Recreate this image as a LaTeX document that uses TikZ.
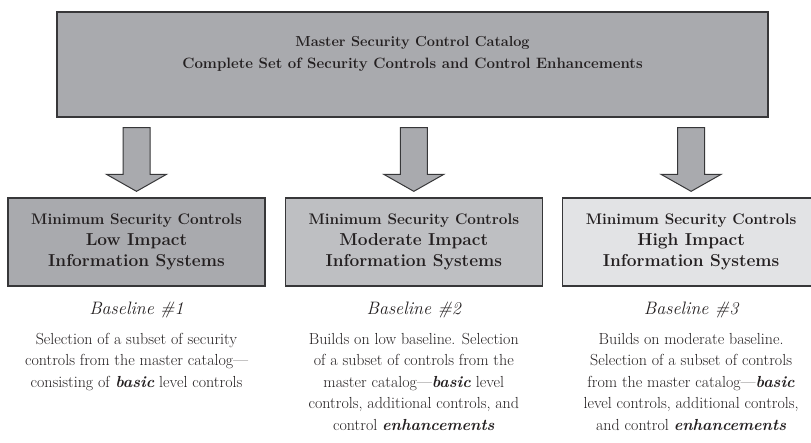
\documentclass[tikz,border=0pt]{standalone}
\usepackage{xcolor}
\usepackage{tikz}
\usetikzlibrary{positioning,calc}

\definecolor{boxgray}{RGB}{169,170,174}
\definecolor{midgray}{RGB}{190,191,194}
\definecolor{palegray}{RGB}{226,227,229}
\definecolor{edgegray}{RGB}{55,55,57}
\definecolor{inkgray}{RGB}{35,31,32}

\tikzset{
  catbox/.style={draw=edgegray, line width=1.3pt, fill=boxgray, minimum width=711pt, minimum height=105pt},
  catlabel/.style={align=center, text=inkgray, font=\bfseries\fontsize{15}{22}\selectfont},
  levelbox/.style={draw=edgegray, line width=1.3pt, minimum width=257pt, minimum height=88pt, inner sep=0pt,
    align=center, text=inkgray, font=\bfseries\fontsize{17.3}{21}\selectfont},
  fatarrow/.style={draw=edgegray, line width=1pt, fill=boxgray, line join=miter},
  basename/.style={text=inkgray, font=\itshape\fontsize{18}{20}\selectfont},
  basetext/.style={align=center, text=inkgray, font=\fontsize{16}{21.5}\selectfont}
}

% block arrow from the catalog down to a baseline box
\newcommand{\fatdown}[2]{%
  \draw[fatarrow] ($(#2.north |- #1.south)+(-13.5,10)$) -- ++(27,0)
    -- ($(#2.north)+(13.5,-23)$) -- ($(#2.north)+(30,-23)$) -- ($(#2.north)+(0,-6)$)
    -- ($(#2.north)+(-30,-23)$) -- ($(#2.north)+(-13.5,-23)$) -- cycle;}

\begin{document}
\begin{tikzpicture}[x=1pt, y=-1pt]
  \useasboundingbox (0,0) rectangle (811,443);

  % Master catalog
  \node[catbox] (catalog) at (412.5,64.5) {};
  \node[catlabel] (catalogtext) at (412.5,54) {{\fontsize{14.5}{22}\selectfont Master Security Control Catalog}\\
    Complete Set of Security Controls and Control Enhancements};

  % Baseline boxes
  \node[levelbox, fill=boxgray] (low) at (136.5,242) {{\fontsize{15.3}{21}\selectfont Minimum Security Controls}\\ Low Impact\\ Information Systems};
  \node[levelbox, fill=midgray, right=19pt of low] (moderate) {{\fontsize{15.3}{21}\selectfont Minimum Security Controls}\\ Moderate Impact\\ Information Systems};
  \node[levelbox, fill=palegray, right=19pt of moderate] (high) {{\fontsize{15.3}{21}\selectfont Minimum Security Controls}\\ High Impact\\ Information Systems};

  % Arrows
  \fatdown{catalog}{low}
  \fatdown{catalog}{moderate}
  \fatdown{catalog}{high}

  % Baseline descriptions
  \node[basename, below=12pt of low] (lowname) {Baseline \#1};
  \node[basename, below=12pt of moderate] (moderatename) {Baseline \#2};
  \node[basename, below=12pt of high] (highname) {Baseline \#3};

  \node[basetext, below=8pt of lowname] (lowtext) {Selection of a subset of security\\
    controls from the master catalog---\\ consisting of \textbf{\textit{basic}} level controls};
  \node[basetext, below=8pt of moderatename] (moderatetext) {Builds on low baseline. Selection\\
    of a subset of controls from the\\ master catalog---\textbf{\textit{basic}} level\\
    controls, additional controls, and\\ control \textbf{\textit{enhancements}}};
  \node[basetext, below=8pt of highname] (hightext) {Builds on moderate baseline.\\
    Selection of a subset of controls\\ from the master catalog---\textbf{\textit{basic}}\\
    level controls, additional controls,\\ and control \textbf{\textit{enhancements}}};
\end{tikzpicture}
\end{document}
